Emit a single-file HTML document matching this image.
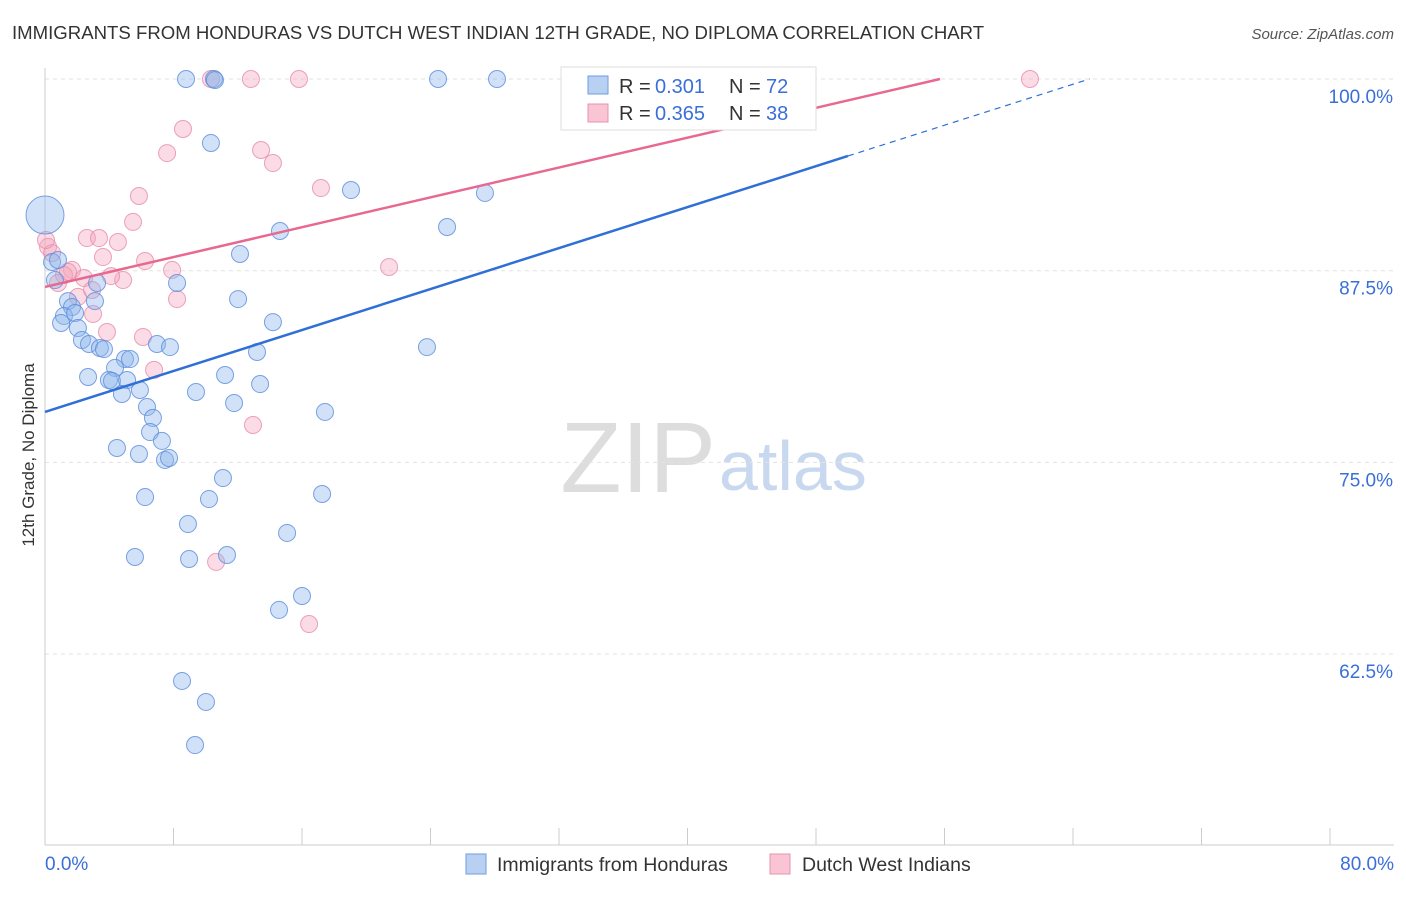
<!DOCTYPE html>
<html><head><meta charset="utf-8"><style>
body{margin:0;background:#fff;font-family:"Liberation Sans",sans-serif;}
svg text{font-family:"Liberation Sans",sans-serif;}
</style></head><body>
<svg id="chart" width="1406" height="892">
<text x="12" y="39" font-size="18.6" fill="#333">IMMIGRANTS FROM HONDURAS VS DUTCH WEST INDIAN 12TH GRADE, NO DIPLOMA CORRELATION CHART</text>
<text x="1394" y="39" font-size="15" fill="#555" text-anchor="end" font-style="italic">Source: ZipAtlas.com</text>
<text x="0" y="0" transform="translate(34,455) rotate(-90)" font-size="17" fill="#333" text-anchor="middle">12th Grade, No Diploma</text>
<text x="716" y="492" font-size="100" fill="#ddd" text-anchor="end" font-family="Liberation Serif">ZIP</text>
<text x="719" y="490" font-size="70" fill="#c8d8ee">atlas</text>
<g id="grid"></g><g id="axes"></g><g id="pts"></g><g id="lines"></g>
<rect x="561" y="67" width="255" height="63" fill="#fff" stroke="#ddd"/>
<rect x="588" y="76" width="20" height="18" fill="#b8d0f2" stroke="#6f9be0"/>
<rect x="588" y="104" width="20" height="18" fill="#f9c5d5" stroke="#e890ad"/>
<g font-size="20">
<text x="619" y="93" fill="#333">R =</text><text x="655" y="93" fill="#3a6fd8">0.301</text>
<text x="729" y="93" fill="#333">N =</text><text x="766" y="93" fill="#3a6fd8">72</text></g>
<g font-size="20">
<text x="619" y="120" fill="#333">R =</text><text x="655" y="120" fill="#3a6fd8">0.365</text>
<text x="729" y="120" fill="#333">N =</text><text x="766" y="120" fill="#3a6fd8">38</text></g>
<rect x="466" y="854" width="20" height="20" fill="#b8d0f2" stroke="#6f9be0"/>
<text x="497" y="871" font-size="19.5" fill="#333">Immigrants from Honduras</text>
<rect x="770" y="854" width="20" height="20" fill="#f9c5d5" stroke="#e890ad"/>
<text x="802" y="871" font-size="19.5" fill="#333">Dutch West Indians</text>
</svg>
<script>
const yTicks=[100,87.5,75,62.5];
const xTickLabels=["0.0%","80.0%"];
const blueX=[0,8.78,10.52,24.47,28.14,41.59,10.33,19.05,27.39,25.03,14.63,12.14,0.44,0.81,0.62,3.24,8.22,1.43,3.11,1.68,12.02,1.18,1.87,1.0,14.19,2.05,2.30,2.74,3.42,3.67,6.97,7.78,13.2,23.78,4.98,5.29,4.36,11.21,2.68,3.98,4.17,5.11,13.39,5.91,4.79,9.40,11.77,6.35,17.43,6.72,6.54,7.28,4.48,5.85,7.47,7.72,11.08,6.23,10.21,17.25,8.90,15.07,5.60,8.97,11.33,16.0,14.57,8.53,10.02,9.34,10.58];
const blueY=[91.13,100,100,100,100,100,95.83,92.76,92.57,90.35,90.09,88.59,88.07,88.20,86.89,86.70,86.70,85.52,85.52,85.13,85.65,84.55,84.74,84.09,84.15,83.76,82.98,82.72,82.46,82.39,82.72,82.52,82.2,82.52,81.74,81.74,81.16,80.70,80.57,80.37,80.31,80.37,80.11,79.72,79.46,79.59,78.87,78.61,78.29,77.9,76.98,76.40,75.94,75.55,75.16,75.29,73.98,72.74,72.61,72.94,70.98,70.40,68.83,68.70,68.96,66.29,65.38,60.75,59.38,56.57,99.93];
const pinkX=[10.33,12.82,15.81,61.32,8.59,7.60,13.45,14.19,17.18,5.85,5.48,2.61,3.36,4.54,0.19,0.44,3.61,6.23,7.91,1.68,1.18,2.43,4.86,4.11,2.05,8.22,2.99,3.86,6.10,21.42,6.79,12.95,10.65,16.44,0.06,0.81,2.93,1.43];
const pinkY=[100,100,100,100,96.74,95.17,95.37,94.52,92.89,92.37,90.68,89.63,89.63,89.37,89.05,88.65,88.39,88.13,87.55,87.55,87.22,87.02,86.89,87.15,85.79,85.65,84.68,83.50,83.18,87.74,81.03,77.44,68.51,64.46,89.50,86.70,86.24,87.42];
const blueLine=[0,78.29,49.99,94.98];
const pinkLine=[0,86.44,55.72,100];
const x0=45,x1=1330,yTop=79,pxPer12=191.7;
const sx=v=>x0+(v/80)*(x1-x0);
const sy=v=>yTop+(100-v)/12.5*pxPer12;
const NS="http://www.w3.org/2000/svg";
function mk(t,a,p){const e=document.createElementNS(NS,t);for(const k in a)e.setAttribute(k,a[k]);document.getElementById(p).appendChild(e);return e;}
yTicks.forEach(v=>{
 const l=mk('line',{x1:45,x2:1394,y1:sy(v),y2:sy(v),stroke:'#e2e2e2','stroke-dasharray':'4,4'},'grid');
 
 
 const t=mk('text',{x:1393,y:sy(v)+24,'font-size':19,fill:'#3a6fd8','text-anchor':'end'},'grid');
 t.textContent=v.toFixed(1)+'%';
 
 
});
const ax=mk('line',{x1:45,x2:1394,y1:845,y2:845,stroke:'#ccc'},'axes');


const ay=mk('line',{x1:45,x2:45,y1:68,y2:845,stroke:'#ccc'},'axes');


for(let i=0;i<=10;i++){
 const t=mk('line',{x1:sx(i*8),x2:sx(i*8),y1:828,y2:845,stroke:'#ccc'},'axes');
 
 
}
[[45,'start',0],[1394,'end',1]].forEach(([x,a,i])=>{
 const t=mk('text',{x:x,y:870,'font-size':19,fill:'#3a6fd8','text-anchor':a},'axes');
 t.textContent=xTickLabels[i];
 
 
});
pinkX.forEach((v,i)=>{
 const c=mk('circle',{cx:sx(v),cy:sy(pinkY[i]),r:8.5,fill:'rgba(245,165,190,0.4)',stroke:'rgba(230,140,170,0.8)'},'pts');
 
 
});
blueX.forEach((v,i)=>{
 const big=i===0;
 const c=mk('circle',{cx:sx(v),cy:sy(blueY[i]),r:big?19:8.5,fill:'rgba(140,180,235,0.4)',stroke:'rgba(90,140,220,0.8)'},'pts');
 
 
});
const bs=(blueLine[3]-blueLine[1])/(blueLine[2]-blueLine[0]);
const bl=mk('line',{x1:sx(blueLine[0]),y1:sy(blueLine[1]),x2:sx(blueLine[2]),y2:sy(blueLine[3]),stroke:'#2f6fd6','stroke-width':2.5},'lines');


const xe=blueLine[2]+(100-blueLine[3])/bs;
const bd=mk('line',{x1:sx(blueLine[2]),y1:sy(blueLine[3]),x2:sx(xe),y2:sy(100),stroke:'#2f6fd6','stroke-width':1.2,'stroke-dasharray':'6,5'},'lines');


const pl=mk('line',{x1:sx(pinkLine[0]),y1:sy(pinkLine[1]),x2:sx(pinkLine[2]),y2:sy(pinkLine[3]),stroke:'#e8688f','stroke-width':2.5},'lines');


</script>
</body></html>
